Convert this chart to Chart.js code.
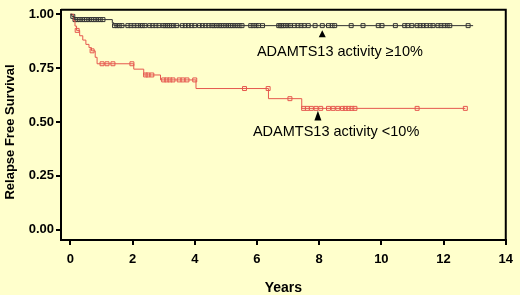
<!DOCTYPE html>
<html>
<head>
<meta charset="utf-8">
<script src="https://cdn.jsdelivr.net/npm/chart.js@4.4.1/dist/chart.umd.min.js"></script>
<style>
html, body { margin: 0; padding: 0; background: #FFFFCC; }
#wrap { width: 520px; height: 295px; position: relative; }
</style>
</head>
<body>
<div id="wrap"><canvas id="km"></canvas></div>
<script>
// tick labels
const xTicks = [0, 2, 4, 6, 8, 10, 12, 14];
const yTicks = [0, 0.25, 0.5, 0.75, 1];

// ADAMTS13 activity >=10% : event times / survival after each event
const highTimes = [0, 0.05, 0.12, 1.35, 1.4];
const highSurv = [1.0, 0.99, 0.975, 0.96, 0.947];
const highEnd = 12.95;
const highCensor = [0.08, 0.15, 0.22, 0.3, 0.38, 0.45, 0.52, 0.6, 0.68, 0.75, 0.82, 0.9, 0.97, 1.05,
  1.42, 1.5, 1.58, 1.66, 1.85, 1.95, 2.05, 2.15, 2.25, 2.32, 2.4, 2.55, 2.65, 2.75, 2.85,
  2.98, 3.05, 3.12, 3.18, 3.25, 3.32, 3.42, 3.6, 3.7, 3.8, 3.9, 4.0, 4.15, 4.25, 4.35, 4.45,
  4.55, 4.62, 4.7, 4.78, 4.85, 4.92, 5.0, 5.08, 5.15, 5.22, 5.3, 5.38, 5.45, 5.52,
  5.8, 5.88, 5.97, 6.05, 6.18, 6.7, 6.75, 6.8, 6.85, 6.92, 7.0, 7.08, 7.2, 7.32, 7.42, 7.52,
  7.65, 7.87, 8.1, 8.3, 8.42, 8.5, 9.03, 9.41, 9.9, 10.02, 10.45, 10.75, 10.85, 10.98,
  11.15, 11.25, 11.35, 11.45, 11.57, 11.66, 11.82, 11.92, 12.02, 12.12, 12.2, 12.79];

// ADAMTS13 activity <10%
const lowTimes = [0, 0.1, 0.15, 0.2, 0.3, 0.4, 0.5, 0.6, 0.68, 0.8, 0.86, 2.04, 2.36, 2.9, 4.04, 6.37, 7.44];
const lowSurv = [1.0, 0.97, 0.945, 0.925, 0.9, 0.88, 0.86, 0.845, 0.83, 0.8, 0.77, 0.745, 0.718, 0.695, 0.655, 0.608, 0.563];
const lowEnd = 12.7;
const lowCensor = [0.22, 0.7, 1.02, 1.18, 1.37, 1.98, 2.42, 2.5, 2.62, 3.0, 3.1, 3.2, 3.3, 3.5,
  3.62, 3.75, 4.0, 5.6, 6.36, 7.06, 7.5, 7.62, 7.75, 7.9, 8.05, 8.3, 8.45, 8.6, 8.75, 8.85,
  8.95, 9.05, 9.15, 11.15, 12.7];

const labelHigh = "ADAMTS13 activity \u226510%";
const labelLow = "ADAMTS13 activity <10%";

function stepLine(times, surv, end) {
    const pts = times.map((t, i) => ({ x: t, y: surv[i] }));
    pts.push({ x: end, y: surv[surv.length - 1] });
    return pts;
}

function survAt(times, surv, t) {
    let s = surv[0];
    for (let i = 0; i < times.length; i++) {
        if (times[i] <= t) s = surv[i];
    }
    return s;
}

function censorPts(censor, times, surv) {
    return censor.map(t => ({ x: t, y: survAt(times, surv, t) }));
}

const RED = "#E5584E";
const DARK = "#333333";
const FONT = "Arial, 'Liberation Sans', sans-serif";

const boxAndText = {
    id: "boxAndText",
    afterDatasetsDraw(chart) {
        const { ctx, chartArea: a, scales: { x, y } } = chart;
        ctx.save();
        ctx.strokeStyle = "#000";
        ctx.lineWidth = 2;
        ctx.beginPath();
        ctx.moveTo(a.left, a.top);
        ctx.lineTo(a.right, a.top);
        ctx.lineTo(a.right, a.bottom);
        ctx.stroke();

        // annotation labels
        ctx.fillStyle = "#000";
        ctx.font = "14.5px " + FONT;
        ctx.textBaseline = "middle";
        ctx.textAlign = "left";
        ctx.fillText(labelHigh, x.getPixelForValue(6.0), y.getPixelForValue(0.825));
        ctx.fillText(labelLow, x.getPixelForValue(5.87), y.getPixelForValue(0.452));

        // arrows
        const tri = (xv, yTop, yBase) => {
            const cx = x.getPixelForValue(xv);
            const t = y.getPixelForValue(yTop), b = y.getPixelForValue(yBase);
            ctx.beginPath();
            ctx.moveTo(cx, t);
            ctx.lineTo(cx + 3.5, b);
            ctx.lineTo(cx - 3.5, b);
            ctx.closePath();
            ctx.fill();
        };
        tri(8.1, 0.925, 0.893);
        tri(7.96, 0.552, 0.507);

        // axis titles
        ctx.font = "bold 14px " + FONT;
        ctx.textAlign = "center";
        ctx.fillText("Years", (a.left + a.right) / 2, 288);
        ctx.font = "bold 13px " + FONT;
        ctx.translate(10, 132);
        ctx.rotate(-Math.PI / 2);
        ctx.fillText("Relapse Free Survival", 0, 0);
        ctx.restore();
    }
};

new Chart(document.getElementById("km"), {
    type: "line",
    data: {
        datasets: [
            {
                label: labelHigh,
                data: stepLine(highTimes, highSurv, highEnd),
                borderColor: DARK,
                borderWidth: 1,
                stepped: true,
                pointRadius: 0,
                fill: false
            },
            {
                label: labelLow,
                data: stepLine(lowTimes, lowSurv, lowEnd),
                borderColor: RED,
                borderWidth: 1,
                stepped: true,
                pointRadius: 0,
                fill: false
            },
            {
                label: "censored high",
                type: "scatter",
                data: censorPts(highCensor, highTimes, highSurv),
                pointStyle: "rect",
                pointRadius: 2.8,
                borderWidth: 1,
                borderColor: DARK,
                backgroundColor: "rgba(255,255,204,0.3)"
            },
            {
                label: "censored low",
                type: "scatter",
                data: censorPts(lowCensor, lowTimes, lowSurv),
                pointStyle: "rect",
                pointRadius: 2.8,
                borderWidth: 1,
                borderColor: RED,
                backgroundColor: "rgba(255,255,204,0.3)"
            }
        ]
    },
    options: {
        responsive: true,
        maintainAspectRatio: false,
        animation: false,
        layout: { padding: { top: 5, right: 14, left: 0, bottom: 0 } },
        plugins: {
            legend: { display: false },
            tooltip: { enabled: false }
        },
        scales: {
            x: {
                type: "linear",
                min: -0.3,
                max: 14,
                afterBuildTicks: s => { s.ticks = xTicks.map(v => ({ value: v })); },
                afterFit: s => { s.height = 55; },
                border: { color: "#000", width: 2 },
                grid: { drawOnChartArea: false, color: "#000", lineWidth: 2, tickLength: 5 },
                ticks: {
                    color: "#000",
                    padding: 7,
                    font: { family: FONT, size: 13, weight: "bold" },
                    callback: v => v
                }
            },
            y: {
                type: "linear",
                min: -0.048,
                max: 1.0205,
                afterBuildTicks: s => { s.ticks = yTicks.map(v => ({ value: v })); },
                afterFit: s => { s.width = 61; },
                border: { color: "#000", width: 2 },
                grid: { drawOnChartArea: false, color: "#000", lineWidth: 2, tickLength: 5 },
                ticks: {
                    color: "#000",
                    padding: 2,
                    font: { family: FONT, size: 13, weight: "bold" },
                    callback: v => v.toFixed(2)
                }
            }
        }
    },
    plugins: [boxAndText]
});
</script>
</body>
</html>
